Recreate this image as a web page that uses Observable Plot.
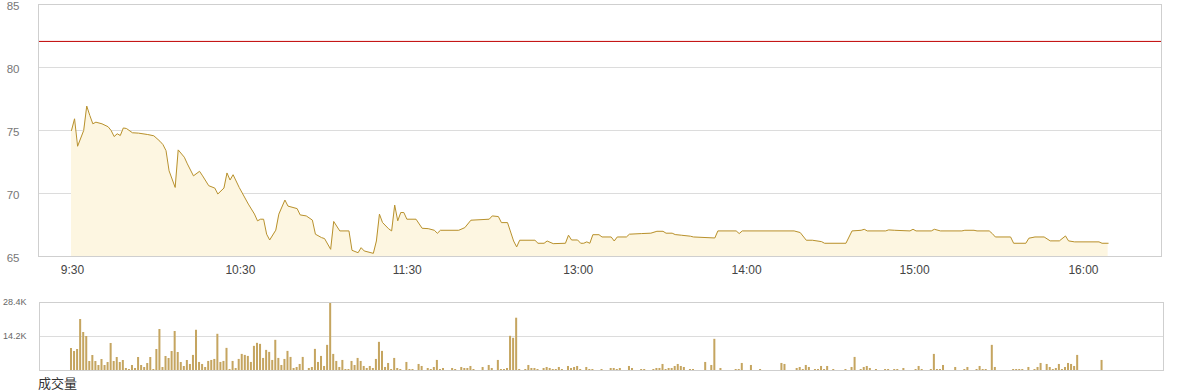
<!DOCTYPE html>
<html><head><meta charset="utf-8">
<script src="https://cdn.jsdelivr.net/npm/d3@7"></script>
<script src="https://cdn.jsdelivr.net/npm/@observablehq/plot@0.6"></script>
<style>
body{margin:0;background:#fff;font-family:"Liberation Sans",Arial,sans-serif;}
#wrap{position:relative;width:1180px;height:392px;overflow:hidden;}
#price{position:absolute;left:0;top:0;}
#vol{position:absolute;left:0;top:290px;}
#cap{position:absolute;left:38px;top:375px;font-size:13px;line-height:16px;font-family:"Noto Sans CJK SC",sans-serif;color:#333;}
</style></head>
<body>
<div id="wrap"><div id="price"></div><div id="vol"></div><div id="cap">成交量</div></div>
<script>
// ---- data ----
const priceMinute = [0,1,2,4,5,6,7,8,10,12,13,14,15,16,17,18,20,22,25,27,29,30,31,32,34,35,37,38,40,42,43,45,47,48,50,51,52,53,55,58,60,61,62,63,64,65,67,68,70,71,74,75,77,79,80,82,83,85,86,88,91,92,94,95,96,99,100,101,102,104,105,106,107,108,109,110,113,115,117,119,120,121,127,129,131,137,138,140,141,143,145,146,147,152,153,155,156,158,162,163,164,166,167,168,169,170,171,173,174,177,178,179,182,183,187,190,192,194,195,197,198,200,203,204,211,212,218,219,220,237,239,241,243,246,247,254,256,259,260,261,267,268,270,275,276,277,282,283,285,292,293,296,297,301,302,303,308,309,313,314,316,319,321,324,326,327,329,337,338,340];
const priceValue = [75.0,75.93,73.75,75.0,76.94,76.2,75.53,75.66,75.53,75.3,75.0,74.52,74.74,74.6,75.2,75.16,74.82,74.79,74.68,74.58,74.15,73.88,73.4,71.8,70.48,73.46,72.88,72.35,71.4,71.76,71.4,70.62,70.43,69.96,70.43,71.63,71.07,71.49,70.48,69.16,68.37,67.83,67.96,67.96,66.77,66.31,67.09,68.36,69.48,69.0,68.8,68.3,68.22,67.89,66.77,66.5,66.42,65.57,67.78,67.03,67.03,65.49,65.3,65.7,65.44,65.25,66.23,68.36,67.7,67.2,67.03,69.08,67.83,68.49,68.49,67.96,67.96,67.24,67.21,67.08,66.84,67.08,67.08,67.29,67.88,67.96,68.22,68.17,67.69,67.69,66.23,65.76,66.29,66.29,66.05,66.05,66.23,66.02,66.05,66.69,66.31,66.31,66.05,66.05,66.16,66.05,66.73,66.73,66.55,66.55,66.23,66.55,66.55,66.77,66.82,66.85,67.0,67.0,66.85,66.85,66.74,66.69,66.61,66.55,66.47,67.03,67.03,66.82,67.03,67.03,66.9,66.29,66.29,66.18,66.05,66.05,67.03,67.08,67.16,67.03,67.03,67.11,67.08,67.03,67.16,67.03,67.03,67.16,67.03,67.03,67.08,67.08,67.03,67.03,66.82,66.55,66.55,66.05,66.05,66.45,66.55,66.55,66.24,66.24,66.63,66.24,66.16,66.16,66.05,66.05];
const prevClose = 82.07;
const priceTicks = [65,70,75,80,85];

const volMinute = [0,1,2,3,4,5,6,7,8,9,10,11,12,13,14,15,16,17,18,19,20,21,22,23,24,25,26,27,28,29,30,31,32,33,34,35,36,37,38,39,40,41,42,43,44,45,46,47,48,49,50,51,52,53,54,55,56,57,58,59,60,61,62,63,64,65,66,67,68,69,70,71,72,73,74,75,76,78,79,80,81,82,83,84,85,86,87,88,89,90,91,92,93,94,95,96,97,98,99,100,101,102,103,104,105,106,107,108,110,111,112,114,115,117,118,119,120,121,122,125,126,128,129,130,131,132,135,137,138,140,141,142,143,144,145,146,147,149,150,151,152,153,155,156,157,158,159,160,161,163,164,165,166,167,169,170,171,174,177,178,179,180,183,184,187,188,191,192,193,194,195,196,197,198,199,200,201,203,204,208,210,211,213,218,219,220,223,226,233,234,238,239,240,241,242,244,245,246,247,248,250,254,256,257,259,260,261,262,264,267,268,270,271,273,277,278,279,282,283,284,285,286,290,293,294,297,298,299,300,302,303,309,310,311,312,314,316,317,318,320,321,322,323,324,325,326,327,328,329,330,338];
const volValue = [9190,7930,8770,21300,15870,14200,3760,6260,3760,2090,4590,2090,3340,11280,3760,5430,3340,4180,840,420,2090,840,5430,2090,1250,2920,5430,420,8770,17120,1250,5850,5010,7930,16290,7520,3340,1670,4180,2510,6300,16800,3360,2520,1260,3780,4200,4620,15120,3360,3780,9240,420,3780,840,4620,6720,6300,5880,3360,10080,11340,10920,5040,8400,7560,4200,12600,5040,2100,4620,7980,5460,840,1260,2520,5460,840,1260,8820,3360,5880,1680,10500,28400,6720,3780,1260,4200,420,420,3780,2100,5040,3780,1680,840,1680,840,4620,11760,7980,1260,2940,420,5040,840,420,3360,420,420,2520,1680,840,420,1260,4200,420,840,840,420,1260,840,840,1680,420,1260,2100,840,4200,420,420,840,14280,13440,21840,420,420,2100,840,840,420,840,1260,840,420,420,1260,420,1680,840,1260,1680,420,1260,420,420,420,840,840,420,840,1680,840,420,420,420,840,840,2520,420,840,840,1680,2520,1680,1260,420,420,3360,2100,13020,840,420,420,2940,2100,420,2940,2520,840,1260,420,2100,1260,420,420,1680,420,1680,420,420,1260,5460,420,1260,1680,840,420,420,420,420,420,840,420,1680,420,420,6720,420,420,2100,1260,420,1260,420,1680,420,420,10500,1260,420,420,420,420,1260,420,1260,2940,2520,1260,420,840,2520,420,1260,2940,2520,1680,6300,4200];
const volTicks = [14200, 28400];
const volTickLabels = ["14.2K", "28.4K"];

const timeTickPos = [0.3, 55.4, 110.1, 166.2, 221.4, 276.5, 331.9];
const timeTickLabels = ["9:30","10:30","11:30","13:00","14:00","15:00","16:00"];

// ---- tables ----
const price = priceMinute.map((m, k) => ({m, p: priceValue[k]}));
const vol = volMinute.map((m, k) => ({m, v: volValue[k]}));
const yBase = priceTicks[0];
const timeLabel = new Map(timeTickPos.map((p, k) => [p, timeTickLabels[k]]));
const volLabel = new Map(volTicks.map((t, k) => [t, volTickLabels[k]]));

const pitch = 3.049, firstPx = 71;
const font = "'Liberation Sans', Arial, sans-serif";

const priceChart = Plot.plot({
  width: 1180, height: 282,
  marginTop: 4, marginBottom: 26, marginLeft: 38, marginRight: 19,
  style: {fontFamily: font, background: "transparent", overflow: "visible"},
  x: {domain: [(38 - firstPx) / pitch, (1161 - firstPx) / pitch]},
  y: {domain: [65, 85]},
  marks: [
    Plot.gridY([70, 75, 80], {stroke: "#dcdcdc", strokeOpacity: 1}),
    Plot.areaY(price, {x: "m", y1: () => yBase, y2: "p", fill: "#fdf6e1"}),
    Plot.line(price, {x: "m", y: "p", stroke: "#b8912d", strokeWidth: 1}),
    Plot.ruleY([prevClose], {stroke: "#c00000", strokeWidth: 1}),
    Plot.frame({stroke: "#cfcfcf"}),
    Plot.axisY(priceTicks, {tickSize: 0, tickPadding: 19, fontSize: 11.5, dy: 1.5, color: "#777", label: null}),
    Plot.axisX(timeTickPos, {tickSize: 0, tickPadding: 9, fontSize: 12, color: "#444", label: null, tickFormat: d => timeLabel.get(d)})
  ]
});
document.getElementById("price").appendChild(priceChart);

const volChart = Plot.plot({
  width: 1180, height: 84,
  marginTop: 12, marginBottom: 4, marginLeft: 39, marginRight: 17,
  style: {fontFamily: font, background: "transparent", overflow: "visible"},
  x: {domain: [(39 - firstPx) / pitch, (1163 - firstPx) / pitch], axis: null},
  y: {domain: [0, 28400]},
  marks: [
    Plot.gridY([14200], {stroke: "#dcdcdc", strokeOpacity: 1}),
    Plot.rectY(vol, {x1: d => d.m - 0.33, x2: d => d.m + 0.33, y: "v", fill: "#c5a560"}),
    Plot.frame({stroke: "#cfcfcf"}),
    Plot.axisY(volTicks, {tickSize: 0, tickPadding: 13, fontSize: 9, color: "#666", label: null, tickFormat: d => volLabel.get(d)})
  ]
});
document.getElementById("vol").appendChild(volChart);
</script>
</body></html>
